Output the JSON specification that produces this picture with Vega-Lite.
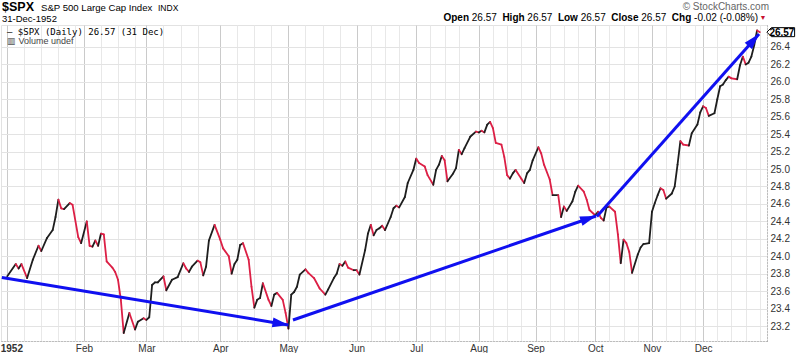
{
  "$schema": "https://vega.github.io/schema/vega-lite/v6.json",
  "width": 766,
  "height": 316,
  "autosize": {"type": "none"},
  "padding": {"left": 1, "top": 25, "right": 33, "bottom": 12},
  "background": "white",
  "config": {"view": {"stroke": "#e2e2e2", "strokeWidth": 1}, "font": "Liberation Sans"},
  "datasets": {
    "prices": [
      {"d":0,"close":23.77},{"d":3,"close":23.91},{"d":4,"close":23.86},{"d":5,"close":23.91},{"d":7,"close":23.75},{"d":9,"close":23.96},{"d":11,"close":24.12},{"d":12,"close":24.06},{"d":14,"close":24.21},{"d":16,"close":24.30},{"d":17,"close":24.45},{"d":18,"close":24.65},{"d":19,"close":24.55},{"d":20,"close":24.54},{"d":22,"close":24.61},{"d":23,"close":24.59},{"d":25,"close":24.22},{"d":26,"close":24.15},{"d":28,"close":24.40},{"d":29,"close":24.12},{"d":30,"close":24.11},{"d":31,"close":24.18},{"d":32,"close":24.12},{"d":33,"close":24.26},{"d":34,"close":24.25},{"d":35,"close":23.94},{"d":37,"close":23.87},{"d":38,"close":23.82},{"d":39,"close":23.73},{"d":40,"close":23.50},{"d":41,"close":23.12},{"d":43,"close":23.35},{"d":45,"close":23.16},{"d":46,"close":23.25},{"d":48,"close":23.29},{"d":49,"close":23.27},{"d":50,"close":23.30},{"d":51,"close":23.67},{"d":52,"close":23.70},{"d":53,"close":23.70},{"d":55,"close":23.77},{"d":56,"close":23.61},{"d":58,"close":23.73},{"d":60,"close":23.76},{"d":62,"close":23.92},{"d":63,"close":23.86},{"d":64,"close":23.82},{"d":65,"close":23.88},{"d":67,"close":23.95},{"d":68,"close":23.93},{"d":69,"close":23.78},{"d":70,"close":23.88},{"d":71,"close":24.18},{"d":73,"close":24.36},{"d":75,"close":24.19},{"d":76,"close":24.09},{"d":78,"close":24.00},{"d":79,"close":23.80},{"d":80,"close":23.91},{"d":81,"close":23.96},{"d":82,"close":24.13},{"d":83,"close":24.15},{"d":85,"close":23.96},{"d":86,"close":23.65},{"d":87,"close":23.41},{"d":88,"close":23.50},{"d":89,"close":23.52},{"d":90,"close":23.69},{"d":92,"close":23.50},{"d":93,"close":23.43},{"d":94,"close":23.56},{"d":95,"close":23.58},{"d":97,"close":23.50},{"d":98,"close":23.35},{"d":99,"close":23.17},{"d":100,"close":23.56},{"d":101,"close":23.59},{"d":102,"close":23.65},{"d":103,"close":23.79},{"d":105,"close":23.85},{"d":106,"close":23.81},{"d":108,"close":23.75},{"d":110,"close":23.63},{"d":112,"close":23.56},{"d":113,"close":23.62},{"d":115,"close":23.75},{"d":116,"close":23.80},{"d":117,"close":23.91},{"d":118,"close":23.89},{"d":119,"close":23.94},{"d":120,"close":23.87},{"d":122,"close":23.84},{"d":123,"close":23.84},{"d":124,"close":23.79},{"d":126,"close":24.07},{"d":127,"close":24.26},{"d":128,"close":24.36},{"d":129,"close":24.24},{"d":130,"close":24.30},{"d":131,"close":24.32},{"d":132,"close":24.35},{"d":133,"close":24.30},{"d":135,"close":24.45},{"d":136,"close":24.55},{"d":137,"close":24.58},{"d":138,"close":24.56},{"d":140,"close":24.68},{"d":141,"close":24.84},{"d":143,"close":24.99},{"d":144,"close":25.12},{"d":145,"close":25.07},{"d":147,"close":25.03},{"d":148,"close":24.93},{"d":150,"close":24.82},{"d":151,"close":24.99},{"d":152,"close":25.05},{"d":153,"close":25.15},{"d":154,"close":25.10},{"d":155,"close":24.86},{"d":157,"close":24.95},{"d":158,"close":25.01},{"d":159,"close":25.22},{"d":160,"close":25.17},{"d":161,"close":25.24},{"d":163,"close":25.37},{"d":165,"close":25.43},{"d":166,"close":25.42},{"d":167,"close":25.44},{"d":168,"close":25.42},{"d":169,"close":25.51},{"d":170,"close":25.54},{"d":171,"close":25.47},{"d":172,"close":25.30},{"d":174,"close":25.28},{"d":175,"close":25.14},{"d":176,"close":24.93},{"d":177,"close":24.89},{"d":178,"close":24.95},{"d":179,"close":24.99},{"d":181,"close":24.89},{"d":182,"close":24.84},{"d":183,"close":24.95},{"d":184,"close":24.99},{"d":185,"close":25.10},{"d":187,"close":25.25},{"d":188,"close":25.18},{"d":189,"close":25.05},{"d":191,"close":24.88},{"d":192,"close":24.70},{"d":194,"close":24.70},{"d":195,"close":24.45},{"d":196,"close":24.57},{"d":197,"close":24.52},{"d":199,"close":24.63},{"d":200,"close":24.74},{"d":201,"close":24.81},{"d":203,"close":24.74},{"d":204,"close":24.65},{"d":205,"close":24.53},{"d":207,"close":24.47},{"d":208,"close":24.51},{"d":209,"close":24.44},{"d":210,"close":24.41},{"d":211,"close":24.56},{"d":212,"close":24.57},{"d":214,"close":24.51},{"d":215,"close":24.25},{"d":216,"close":23.92},{"d":217,"close":24.19},{"d":218,"close":24.15},{"d":219,"close":24.05},{"d":220,"close":23.81},{"d":222,"close":24.02},{"d":223,"close":24.10},{"d":224,"close":24.14},{"d":226,"close":24.15},{"d":227,"close":24.51},{"d":228,"close":24.61},{"d":229,"close":24.70},{"d":230,"close":24.78},{"d":231,"close":24.76},{"d":232,"close":24.66},{"d":234,"close":24.72},{"d":235,"close":24.80},{"d":236,"close":25.05},{"d":237,"close":25.32},{"d":238,"close":25.28},{"d":240,"close":25.27},{"d":241,"close":25.41},{"d":243,"close":25.51},{"d":244,"close":25.65},{"d":245,"close":25.72},{"d":246,"close":25.70},{"d":247,"close":25.61},{"d":249,"close":25.64},{"d":250,"close":25.80},{"d":251,"close":25.95},{"d":252,"close":25.97},{"d":253,"close":26.02},{"d":254,"close":26.06},{"d":255,"close":26.04},{"d":257,"close":26.03},{"d":258,"close":26.19},{"d":259,"close":26.29},{"d":260,"close":26.20},{"d":261,"close":26.22},{"d":262,"close":26.29},{"d":263,"close":26.42},{"d":264,"close":26.59},{"d":265,"close":26.57}
    ],
    "arrows": [
      {"id": 1, "d": -1.9, "close": 23.757, "d2": 99.0, "c2": 23.212},
      {"id": 2, "d": 100.6, "close": 23.269, "d2": 207.3, "c2": 24.462},
      {"id": 3, "d": 207.6, "close": 24.455, "d2": 264.7, "c2": 26.549}
    ],
    "heads": [
      {"id": 1, "d": 99.0, "close": 23.212},
      {"id": 2, "d": 207.3, "close": 24.462},
      {"id": 3, "d": 264.7, "close": 26.549}
    ]
  },
  "layer": [
    {
      "encoding": {
        "x": {
          "field": "d", "type": "quantitative",
          "scale": {"domain": [-2.2, 267.5], "nice": false, "zero": false},
          "axis": {
            "title": null,
            "values": [0, 6, 12, 18, 24, 27, 33, 39, 45, 49, 55, 61, 67, 75, 81, 87, 93, 99, 105, 111, 117, 123, 128, 133, 138, 144, 149, 154, 159, 166, 171, 176, 181, 186, 191, 196, 201, 207, 212, 217, 222, 227, 232, 237, 242, 245, 250, 255, 260, 265],
            "labelExpr": "datum.value==0?'1952':datum.value==27?'Feb':datum.value==49?'Mar':datum.value==75?'Apr':datum.value==99?'May':datum.value==123?'Jun':datum.value==144?'Jul':datum.value==166?'Aug':datum.value==186?'Sep':datum.value==207?'Oct':datum.value==227?'Nov':datum.value==245?'Dec':''",
            "labelOverlap": false,
            "labelFontSize": 10,
            "labelColor": "#333",
            "labelFontWeight": {"condition": {"test": "datum.value == 0", "value": "bold"}, "value": "normal"},
            "labelAlign": {"condition": {"test": "datum.value == 0", "value": "left"}, "value": "center"},
            "labelOffset": {"condition": {"test": "datum.value == 0", "value": -7}, "value": 0},
            "labelPadding": 2,
            "ticks": false,
            "domainColor": "#999",
            "domainDash": [1, 2],
            "gridColor": {"condition": {"test": "indexof([0,27,49,75,99,123,144,166,186,207,227,245], datum.value) >= 0", "value": "#cacaca"}, "value": "#e8e8e8"},
            "grid": true
          }
        },
        "y": {
          "field": "close", "type": "quantitative",
          "scale": {"domain": [23.028, 26.652], "nice": false, "zero": false},
          "axis": {
            "title": null,
            "orient": "right",
            "values": [23.2, 23.4, 23.6, 23.8, 24.0, 24.2, 24.4, 24.6, 24.8, 25.0, 25.2, 25.4, 25.6, 25.8, 26.0, 26.2, 26.4],
            "format": ".1f",
            "labelOverlap": false,
            "labelFontSize": 10,
            "labelColor": "#333",
            "labelPadding": 3,
            "ticks": false,
            "domainColor": "#999",
            "domainDash": [1, 2],
            "gridColor": "#e3e3e3",
            "grid": true
          }
        }
      },
      "layer": [
        {
          "data": {"name": "prices"},
          "transform": [
            {"window": [{"op": "lead", "field": "d", "as": "d2"}, {"op": "lead", "field": "close", "as": "c2"}], "sort": [{"field": "d", "order": "ascending"}]},
            {"filter": "isValid(datum.d2)"}
          ],
          "mark": {"type": "rule", "strokeWidth": 1.8, "strokeCap": "round"},
          "encoding": {
            "x2": {"field": "d2"},
            "y2": {"field": "c2"},
            "color": {"condition": {"test": "datum.c2 >= datum.close", "value": "#1e1e1e"}, "value": "#dc1f45"}
          }
        },
        {
          "data": {"name": "arrows"},
          "mark": {"type": "rule", "strokeWidth": 3, "color": "#1010f0"},
          "encoding": {"x2": {"field": "d2"}, "y2": {"field": "c2"}}
        },
        {
          "data": {"name": "heads"},
          "transform": [{"filter": "datum.id == 1"}],
          "mark": {"type": "point", "shape": "M0,0 L-2,-0.62 L-2,0.62 Z", "filled": true, "size": 256, "opacity": 1, "color": "#1010f0", "angle": 9.3}
        },
        {
          "data": {"name": "heads"},
          "transform": [{"filter": "datum.id == 2"}],
          "mark": {"type": "point", "shape": "M0,0 L-2,-0.62 L-2,0.62 Z", "filled": true, "size": 256, "opacity": 1, "color": "#1010f0", "angle": 341}
        },
        {
          "data": {"name": "heads"},
          "transform": [{"filter": "datum.id == 3"}],
          "mark": {"type": "point", "shape": "M0,0 L-2,-0.62 L-2,0.62 Z", "filled": true, "size": 256, "opacity": 1, "color": "#1010f0", "angle": 311.7}
        },
        {
          "data": {"name": "prices"},
          "transform": [{"filter": "datum.d == 265"}],
          "mark": {"type": "point", "shape": "M0.93,0 L1.53,-0.6 L4.63,-0.6 L4.63,0.6 L1.53,0.6 Z", "filled": true, "size": 225, "opacity": 1, "fill": "white", "stroke": "#000", "strokeWidth": 1}
        },
        {
          "data": {"name": "prices"},
          "transform": [{"filter": "datum.d == 265"}],
          "mark": {"type": "text", "fontWeight": "bold", "fontSize": 10, "align": "center", "baseline": "middle", "dx": 22, "dy": 0.5, "color": "#000"},
          "encoding": {"text": {"field": "close", "type": "quantitative", "format": ".2f"}}
        }
      ]
    },
    {
      "data": {"values": [{}]},
      "encoding": {
        "x": {"datum": -2.2, "type": "quantitative", "scale": {"domain": [-2.2, 267.5], "nice": false, "zero": false},
          "axis": {
            "title": null,
            "values": [0, 6, 12, 18, 24, 27, 33, 39, 45, 49, 55, 61, 67, 75, 81, 87, 93, 99, 105, 111, 117, 123, 128, 133, 138, 144, 149, 154, 159, 166, 171, 176, 181, 186, 191, 196, 201, 207, 212, 217, 222, 227, 232, 237, 242, 245, 250, 255, 260, 265],
            "labelExpr": "datum.value==0?'1952':datum.value==27?'Feb':datum.value==49?'Mar':datum.value==75?'Apr':datum.value==99?'May':datum.value==123?'Jun':datum.value==144?'Jul':datum.value==166?'Aug':datum.value==186?'Sep':datum.value==207?'Oct':datum.value==227?'Nov':datum.value==245?'Dec':''",
            "labelOverlap": false,
            "labelFontSize": 10,
            "labelColor": "#333",
            "labelFontWeight": {"condition": {"test": "datum.value == 0", "value": "bold"}, "value": "normal"},
            "labelAlign": {"condition": {"test": "datum.value == 0", "value": "left"}, "value": "center"},
            "labelOffset": {"condition": {"test": "datum.value == 0", "value": -7}, "value": 0},
            "labelPadding": 2,
            "ticks": false,
            "domainColor": "#999",
            "domainDash": [1, 2],
            "gridColor": {"condition": {"test": "indexof([0,27,49,75,99,123,144,166,186,207,227,245], datum.value) >= 0", "value": "#cacaca"}, "value": "#e8e8e8"},
            "grid": true
          }
        },
        "y": {"datum": 26.652, "type": "quantitative", "scale": {"domain": [23.028, 26.652], "nice": false, "zero": false},
          "axis": {
            "title": null,
            "orient": "right",
            "values": [23.2, 23.4, 23.6, 23.8, 24.0, 24.2, 24.4, 24.6, 24.8, 25.0, 25.2, 25.4, 25.6, 25.8, 26.0, 26.2, 26.4],
            "format": ".1f",
            "labelOverlap": false,
            "labelFontSize": 10,
            "labelColor": "#333",
            "labelPadding": 3,
            "ticks": false,
            "domainColor": "#999",
            "domainDash": [1, 2],
            "gridColor": "#e3e3e3",
            "grid": true
          }
        }
      },
      "layer": [
        {"mark": {"type": "text", "text": "$SPX", "fontWeight": "bold", "fontSize": 12.5, "align": "left", "baseline": "alphabetic", "dx": 1, "dy": -14.5, "color": "#000"}},
        {"mark": {"type": "text", "text": "S&P 500 Large Cap Index", "fontSize": 9.6, "align": "left", "baseline": "alphabetic", "dx": 40, "dy": -14.5, "color": "#000"}},
        {"mark": {"type": "text", "text": "INDX", "fontSize": 8.5, "align": "left", "baseline": "alphabetic", "dx": 157, "dy": -14.5, "color": "#000"}},
        {"mark": {"type": "text", "text": "31-Dec-1952", "fontSize": 9.5, "align": "left", "baseline": "alphabetic", "dx": 1, "dy": -3, "color": "#000"}},
        {"mark": {"type": "text", "text": "— $SPX (Daily) 26.57 (31 Dec)", "font": "DejaVu Sans Mono", "fontSize": 9, "align": "left", "baseline": "alphabetic", "dx": 6, "dy": 10, "color": "#000"}},
        {"mark": {"type": "text", "text": "▥ Volume undef", "fontSize": 9, "align": "left", "baseline": "alphabetic", "dx": 6, "dy": 19, "color": "#444"}},
        {"mark": {"type": "text", "text": "© StockCharts.com", "fontSize": 10, "align": "right", "baseline": "alphabetic", "dx": 768, "dy": -15.5, "color": "#666"}},
        {"mark": {"type": "text", "text": "Open", "fontWeight": "bold", "fontSize": 10, "align": "right", "baseline": "alphabetic", "dx": 468, "dy": -4, "color": "#000"}},
        {"mark": {"type": "text", "text": "26.57", "fontSize": 10, "align": "right", "baseline": "alphabetic", "dx": 495.8, "dy": -4, "color": "#000"}},
        {"mark": {"type": "text", "text": "High", "fontWeight": "bold", "fontSize": 10, "align": "right", "baseline": "alphabetic", "dx": 523.6, "dy": -4, "color": "#000"}},
        {"mark": {"type": "text", "text": "26.57", "fontSize": 10, "align": "right", "baseline": "alphabetic", "dx": 551.4, "dy": -4, "color": "#000"}},
        {"mark": {"type": "text", "text": "Low", "fontWeight": "bold", "fontSize": 10, "align": "right", "baseline": "alphabetic", "dx": 576.9, "dy": -4, "color": "#000"}},
        {"mark": {"type": "text", "text": "26.57", "fontSize": 10, "align": "right", "baseline": "alphabetic", "dx": 604.7, "dy": -4, "color": "#000"}},
        {"mark": {"type": "text", "text": "Close", "fontWeight": "bold", "fontSize": 10, "align": "right", "baseline": "alphabetic", "dx": 637.5, "dy": -4, "color": "#000"}},
        {"mark": {"type": "text", "text": "26.57", "fontSize": 10, "align": "right", "baseline": "alphabetic", "dx": 665.3, "dy": -4, "color": "#000"}},
        {"mark": {"type": "text", "text": "Chg", "fontWeight": "bold", "fontSize": 10, "align": "right", "baseline": "alphabetic", "dx": 690.3, "dy": -4, "color": "#000"}},
        {"mark": {"type": "text", "text": "-0.02 (-0.08%)", "fontSize": 10, "align": "right", "baseline": "alphabetic", "dx": 757, "dy": -4, "color": "#000"}},
        {"mark": {"type": "text", "text": "▼", "fontSize": 7, "align": "center", "baseline": "alphabetic", "dx": 762, "dy": -5, "color": "#c8102e"}}
      ]
    }
  ]
}
